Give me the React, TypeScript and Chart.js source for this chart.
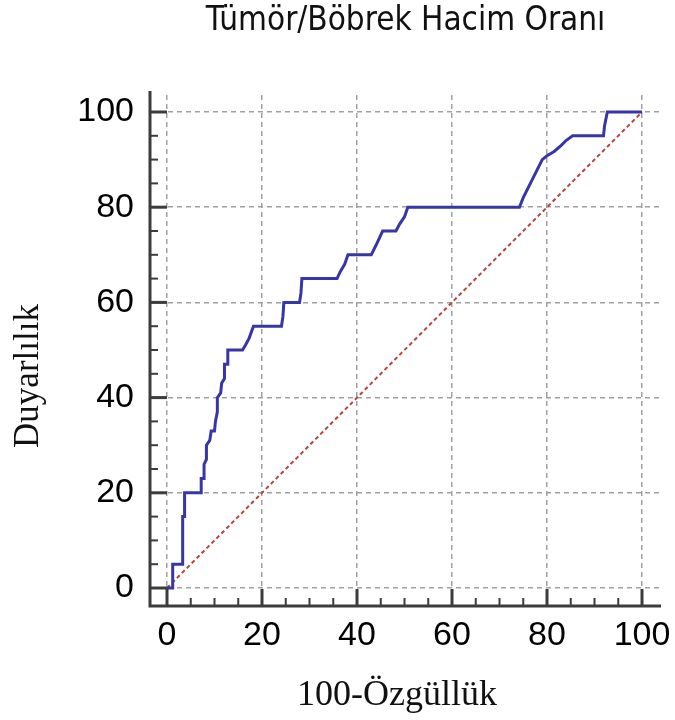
import React, { useEffect, useRef } from "react";
import { Chart, registerables } from "chart.js";

Chart.register(...registerables);

// ROC curve vertices (100-Specificity, Sensitivity)
const fprValues = [
  0, 1.2, 1.2, 3.3, 3.3, 3.7, 3.7, 6.7,
  7.2, 7.2, 7.8, 7.8, 8.3, 8.3, 9.0, 9.3, 10.0, 10.2,
  10.6, 10.6, 11.3, 11.5, 12.1, 12.1, 12.8, 12.8, 15.9, 16.5,
  17.3, 18.2, 24.1, 24.4, 24.6, 27.9, 28.2, 28.4, 35.8, 36.5,
  37.4, 38.1, 43.0, 44.0, 45.4, 48.2, 49.0, 50.0, 50.7, 74.2,
  75.0, 76.5, 78.0, 79.0, 80.0, 81.5, 83.0, 84.0, 85.4, 91.9,
  92.1, 92.7, 100,
];
const tprValues = [
  0, 0, 5, 5, 15, 15, 20, 20,
  20, 23, 23, 26, 27, 30, 31, 33, 33, 35,
  37, 40, 41, 43, 44, 47, 47, 50, 50, 51,
  52.5, 55, 55, 57, 60, 60, 62, 65, 65, 66.5,
  68, 70, 70, 72, 75, 75, 76.5, 78, 80, 80,
  82, 85, 88, 90, 90.8, 91.7, 93, 94, 95, 95,
  97, 100, 100,
];
const refX = [0, 100];
const refY = [0, 100];
const tickValues = [0, 20, 40, 60, 80, 100];
const minorTickValues = [0, 5, 10, 15, 20, 25, 30, 35, 40, 45, 50, 55, 60, 65, 70, 75, 80, 85, 90, 95, 100];

const TITLE = "Tümör/Böbrek Hacim Oranı";
const X_TITLE = "100-Özgüllük";
const Y_TITLE = "Duyarlılık";

const axisPlugin = {
  id: "axisDecor",
  afterDraw(chart: any) {
    const { ctx, chartArea, scales } = chart;
    const xs = scales.x;
    const ys = scales.y;
    const { left, right, top, bottom } = chartArea;
    ctx.save();
    ctx.strokeStyle = "#3c3c3c";
    ctx.lineCap = "butt";
    for (const v of minorTickValues) {
      const major = v % 20 === 0;
      const len = major ? 17 : 8;
      ctx.lineWidth = major ? 3 : 2;
      const px = xs.getPixelForValue(v);
      ctx.beginPath();
      ctx.moveTo(px, bottom);
      ctx.lineTo(px, bottom - len);
      ctx.stroke();
      const py = ys.getPixelForValue(v);
      ctx.beginPath();
      ctx.moveTo(left, py);
      ctx.lineTo(left + len, py);
      ctx.stroke();
    }
    ctx.lineWidth = 3;
    ctx.lineJoin = "miter";
    ctx.beginPath();
    ctx.moveTo(left, top - 4);
    ctx.lineTo(left, bottom);
    ctx.lineTo(right, bottom);
    ctx.stroke();

    // axis titles
    ctx.fillStyle = "#111";
    ctx.font = '36px "Liberation Serif", "Times New Roman", serif';
    ctx.textAlign = "center";
    ctx.textBaseline = "alphabetic";
    ctx.fillText(X_TITLE, 397, 705);
    ctx.font = '35px "Liberation Serif", "Times New Roman", serif';
    ctx.translate(38, 376);
    ctx.rotate(-Math.PI / 2);
    ctx.fillText(Y_TITLE, 0, 0);
    ctx.restore();
  },
};

export default function App() {
  const ref = useRef<HTMLCanvasElement | null>(null);
  useEffect(() => {
    document.body.style.margin = "0";
    const canvas = ref.current;
    if (!canvas) return;
    const setTicks = (s: any) => {
      s.ticks = tickValues.map((v) => ({ value: v }));
    };
    const tickFont = { family: '"Liberation Sans", Arial, sans-serif', size: 34 };
    const chart = new Chart(canvas, {
      type: "line",
      data: {
        datasets: [
          {
            label: "ROC",
            data: fprValues.map((x, i) => ({ x, y: tprValues[i] })),
            borderColor: "#3636a6",
            borderWidth: 3,
            pointRadius: 0,
            tension: 0,
            fill: false,
          },
          {
            label: "Referans",
            data: refX.map((x, i) => ({ x, y: refY[i] })),
            borderColor: "#b4463c",
            borderWidth: 2,
            borderDash: [4, 3],
            pointRadius: 0,
            tension: 0,
            fill: false,
          },
        ],
      },
      options: {
        responsive: false,
        animation: false,
        layout: { autoPadding: false, padding: { left: 0, right: 14, top: 0, bottom: 0 } },
        plugins: {
          legend: { display: false },
          tooltip: { enabled: false },
          title: {
            display: true,
            text: TITLE,
            fullSize: false,
            color: "#111",
            font: { family: '"DejaVu Sans Condensed", "DejaVu Sans", sans-serif', size: 33, weight: "normal" },
            padding: { top: 2, bottom: 53.4 },
          },
        },
        scales: {
          x: {
            type: "linear",
            min: -3.58,
            max: 104,
            afterBuildTicks: setTicks,
            afterFit: (s: any) => {
              s.height = 114;
              s.paddingLeft = 0;
              s.paddingRight = 0;
            },
            grid: { color: "#a0a0a0", lineWidth: 1.5, drawTicks: false },
            border: { display: false, dash: [5, 4] },
            ticks: { font: tickFont, color: "#000", padding: 9, maxRotation: 0, autoSkip: false },
          },
          y: {
            type: "linear",
            min: -3.78,
            max: 103.57,
            afterBuildTicks: setTicks,
            afterFit: (s: any) => {
              s.width = 150;
              s.paddingTop = 0;
              s.paddingBottom = 0;
            },
            grid: { color: "#a0a0a0", lineWidth: 1.5, drawTicks: false },
            border: { display: false, dash: [5, 4] },
            ticks: { font: tickFont, color: "#000", padding: 16, autoSkip: false },
          },
        },
      },
      plugins: [axisPlugin],
    } as any);
    return () => chart.destroy();
  }, []);
  return (
    <canvas ref={ref} width={675} height={720} style={{ display: "block", width: 675, height: 720 }} />
  );
}
